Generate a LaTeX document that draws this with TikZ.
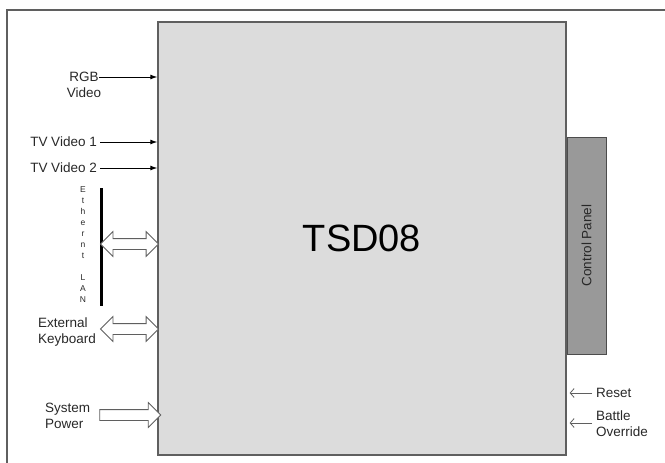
\documentclass[tikz,border=0pt]{standalone}
\usepackage{fontspec}
\setmainfont{Liberation Sans}
\usepackage{xcolor}
\definecolor{boxgray}{RGB}{220, 220, 220}
\definecolor{panelgray}{RGB}{153, 153, 153}
\definecolor{edgegray}{RGB}{95, 95, 95}
\definecolor{textgray}{RGB}{40, 40, 40}
\usetikzlibrary{arrows.meta, positioning, shapes.arrows}

\tikzset{
  lbl/.style={font=\fontsize{13.5}{16}\selectfont, text=textgray, inner sep=0pt},
  sigarrow/.style={-{Latex[length=7pt, width=5pt]}, black, line width=1pt},
  ctlarrow/.style={-{Straight Barb[length=4pt, width=9pt]}, edgegray, line width=0.8pt},
  fatarrow/.style={single arrow, draw=edgegray, fill=white, line width=0.8pt,
    single arrow head extend=7pt, inner sep=5pt, minimum width=24pt},
  dblarrow/.style={double arrow, draw=edgegray, fill=white, line width=0.8pt,
    double arrow head extend=7pt, inner sep=5pt, minimum width=24pt}
}

\begin{document}
\begin{tikzpicture}[x=1pt, y=-1pt]
  \useasboundingbox (0,0) rectangle (665,463);
  % Outer frame (top and left edges only)
  \draw[edgegray, line width=1.5pt] (7,475) -- (7,10) -- (680,10);
  % Main unit
  \node[draw=edgegray, fill=boxgray, line width=1.3pt, minimum width=408pt,
    minimum height=433pt, inner sep=0pt, text=black,
    font=\fontsize{38}{40}\selectfont] (tsd) at (362,238.5) {TSD08};
  % Control panel
  \node[draw=edgegray!80!black, fill=panelgray, line width=1pt, rotate=90,
    minimum width=217pt, minimum height=39pt, inner sep=0pt, lbl] (cpanel)
    at (586.5,245.5) {Control Panel};
  % Video inputs
  \node[lbl, align=center] (rgb) at (84,85) {RGB\\Video};
  \coordinate (rgbin) at (99,77);
  \draw[sigarrow] (rgbin) -- (rgbin -| tsd.west);
  \node[lbl, anchor=east] (tv1) at (97,142) {TV Video 1};
  \draw[sigarrow] ([xshift=3pt]tv1.east) -- (tv1.east -| tsd.west);
  \node[lbl, anchor=east] (tv2) at (97,168) {TV Video 2};
  \draw[sigarrow] ([xshift=3pt]tv2.east) -- (tv2.east -| tsd.west);
  % Ethernet LAN
  \coordinate (lantop) at (101,188);
  \coordinate (lanbot) at (101,306);
  \draw[black, line width=3pt] (lantop) -- (lanbot);
  \node[font=\fontsize{8.5}{11}\selectfont, text=textgray, align=center, inner sep=0pt]
    (lanlbl) at (83,245) {E\\t\\h\\e\\r\\n\\t\\[11pt]L\\A\\N};
  \node[dblarrow, minimum height=58pt] (lanarr) at (129.5,244) {};
  % Keyboard
  \node[lbl, align=left, anchor=west] (kbd) at (38,332) {External\\Keyboard};
  \node[dblarrow, minimum height=58pt] (kbdarr) at (129.5,329) {};
  % Power
  \node[lbl, align=left, anchor=west] (pwr) at (45,416) {System\\Power};
  \node[fatarrow, minimum height=61pt] (pwrarr) at (127.5,415) {};
  % Right side controls
  \node[lbl, anchor=west] (reset) at (596,393) {Reset};
  \draw[ctlarrow] ([xshift=-4pt]reset.west) -- ([xshift=3pt]reset.west -| tsd.east);
  \node[lbl, align=left, anchor=west] (battle) at (596,424) {Battle\\Override};
  \coordinate (batin) at (592,423);
  \draw[ctlarrow] (batin) -- ([xshift=3pt]batin -| tsd.east);
\end{tikzpicture}
\end{document}
